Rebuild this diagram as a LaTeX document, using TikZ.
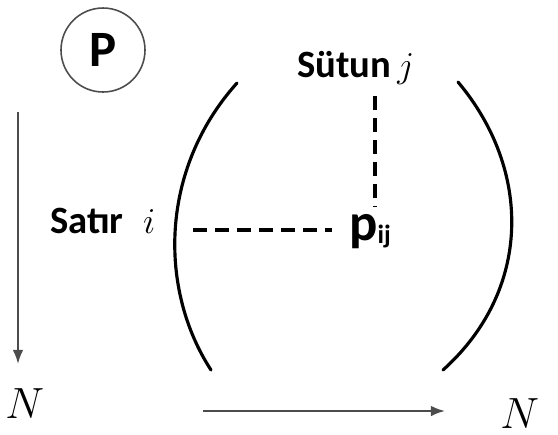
\documentclass[tikz,border=0pt]{standalone}
\usepackage{fontspec}
\setsansfont{Carlito}
\usetikzlibrary{arrows.meta}
\begin{document}
\begin{tikzpicture}[x=0.02cm, y=-0.02cm]
		% Define styles
		\tikzset{
			label/.style={inner sep=0pt, font=\sffamily\bfseries\fontsize{22}{24}\selectfont},
			mathlabel/.style={inner sep=0pt, font=\fontsize{26}{30}\selectfont},
			paren/.style={line width=1.8pt, line cap=round},
			dashline/.style={line width=2.2pt, dash pattern=on 8pt off 4.5pt},
			axis/.style={line width=1.1pt, draw=black!70, -{Latex[length=8pt, width=6pt]}}
		}
		\useasboundingbox (0,0) rectangle (558,434);
		
		% Nodes
		\node[draw, circle, minimum size=84*0.02cm, inner sep=0pt, line width=0.9pt, draw=black!70,
			font=\sffamily\bfseries\fontsize{29}{32}\selectfont] (matrix) at (103,50) {P};
		\node[label, anchor=base west] (sutun) at (297,77) {Sütun$\,j$};
		\node[label, anchor=base west] (satir) at (50,233) {Satır \;$i$};
		\node[anchor=base west, inner sep=0pt, font=\sffamily\bfseries\fontsize{30}{32}\selectfont] (pij) at (349,240) {p\raisebox{-2pt}{\fontsize{15}{16}\selectfont ij}};
		\node[mathlabel, anchor=base west] (rowN) at (5,418) {$N$};
		\node[mathlabel, anchor=base west] (colN) at (500,428) {$N$};
		
		% Coordinates
		\coordinate (coltop) at (375,96);
		\coordinate (colbot) at (375,206);
		\coordinate (rowleft) at (193,230);
		\coordinate (rowright) at (332,230);
		\coordinate (vstart) at (18,112);
		\coordinate (vend) at (18,364);
		\coordinate (hstart) at (203,411);
		\coordinate (hend) at (445,411);
		
		% Brackets
		\draw[paren] (237,83) .. controls (159,170) and (159,290) .. (211,370);
		\draw[paren] (458,82) .. controls (532,170) and (532,290) .. (443,370);
		
		% Dashed lines
		\draw[dashline] (coltop) -- (colbot);
		\draw[dashline] (rowleft) -- (rowright);
		
		% Arrows
		\draw[axis] (vstart) -- (vend);
		\draw[axis] (hstart) -- (hend);
	\end{tikzpicture}
\end{document}
